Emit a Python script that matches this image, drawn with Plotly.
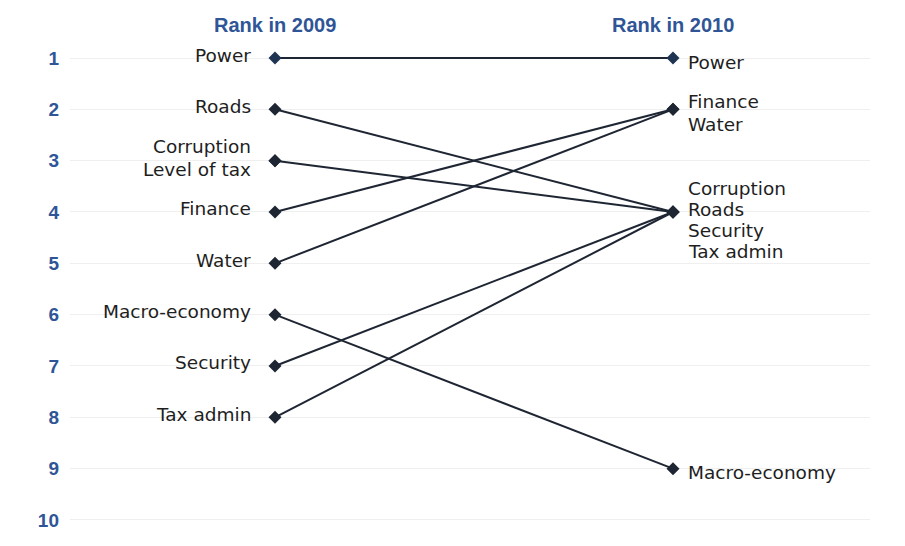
import plotly.graph_objects as go

# Ranking of business constraints, 2009 vs 2010
topics = ["Power", "Roads", "Corruption", "Finance", "Water",
          "Macro-economy", "Security", "Tax admin"]
rank_2009 = [1, 2, 3, 4, 5, 6, 7, 8]
rank_2010 = [1, 4, 4, 2, 2, 9, 4, 4]

# Labels listed at each rank position
labels_2009 = {1: ["Power"], 2: ["Roads"], 3: ["Corruption", "Level of tax"],
               4: ["Finance"], 5: ["Water"], 6: ["Macro-economy"],
               7: ["Security"], 8: ["Tax admin"]}
labels_2010 = {1: ["Power"], 2: ["Finance", "Water"],
               4: ["Corruption", "Roads", "Security", "Tax admin"],
               9: ["Macro-economy"]}

rank_ticks = list(range(1, 11))

LINE = "#1f2633"
BLUE = "#2f5597"
TEXT = "#1e1e1e"
FONT = "DejaVu Sans"
SIZE = 18.5

fig = go.Figure()

for name, r0, r1 in zip(topics, rank_2009, rank_2010):
    fig.add_trace(go.Scatter(
        x=[0, 1], y=[r0, r1], mode="lines+markers", name=name,
        line=dict(color=LINE, width=2),
        marker=dict(symbol="diamond", size=10,
                    color="#1f3352" if r0 == 1 else LINE),
        showlegend=False, hoverinfo="skip"))

# single diamond for "Level of tax" which shares rank 3 in 2009
fig.add_trace(go.Scatter(x=[0], y=[3], mode="markers",
                         marker=dict(symbol="diamond", size=10, color=LINE),
                         showlegend=False, hoverinfo="skip"))

ann = []
for rank, names in labels_2009.items():
    n = len(names)
    for i, nm in enumerate(names):
        off = (i - (n - 1) / 2) * 23 - 3
        ann.append(dict(x=0, y=rank, xref="x", yref="y", text=nm,
                        xanchor="right", yanchor="middle", xshift=-22,
                        yshift=-off, showarrow=False,
                        font=dict(family=FONT, size=SIZE, color=TEXT)))
for rank, names in labels_2010.items():
    n = len(names)
    step = 21 if n > 2 else 23
    base = 8 if n > 2 else 4
    for i, nm in enumerate(names):
        off = (i - (n - 1) / 2) * step + base
        ann.append(dict(x=1, y=rank, xref="x", yref="y", text=nm,
                        xanchor="left", yanchor="middle", xshift=13,
                        yshift=-off, showarrow=False,
                        font=dict(family=FONT, size=SIZE, color=TEXT)))

for x, title in [(0, "Rank in 2009"), (1, "Rank in 2010")]:
    ann.append(dict(x=x, y=0, xref="x", yref="paper", yanchor="middle",
                    yshift=546 - 25, text="<b>%s</b>" % title, showarrow=False,
                    font=dict(family="Liberation Sans", size=20, color=BLUE)))

fig.update_layout(
    width=905, height=546,
    margin=dict(l=70, r=35, t=0, b=0),
    paper_bgcolor="white", plot_bgcolor="white",
    annotations=ann,
    xaxis=dict(range=[-0.515, 1.495], visible=False, fixedrange=True),
    yaxis=dict(range=[10.507, -0.130], tickmode="array",
               tickvals=rank_ticks, ticktext=[str(v) for v in rank_ticks],
               showgrid=True, gridcolor="#efefef", gridwidth=1,
               zeroline=False, showline=False, ticks="",
               ticklabelstandoff=10,
               tickfont=dict(family="Liberation Sans", size=19, color=BLUE,
                             weight="bold")),
)

fig.write_html("out.html")
